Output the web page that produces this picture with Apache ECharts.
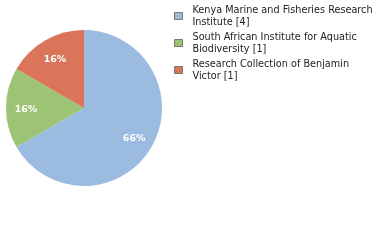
<!DOCTYPE html>
<html><head><meta charset="utf-8">
<script src="https://cdn.jsdelivr.net/npm/echarts@6/dist/echarts.min.js"></script>
<style>html,body{margin:0;padding:0;background:#fff}#c{width:380px;height:240px}</style>
</head><body><div id="c"></div>
<script>
const categories = ["Kenya Marine and Fisheries Research Institute", "South African Institute for Aquatic Biodiversity", "Research Collection of Benjamin Victor"];
const legendLines = [["Kenya Marine and Fisheries Research", "Institute [4]"], ["South African Institute for Aquatic", "Biodiversity [1]"], ["Research Collection of Benjamin", "Victor [1]"]];
const counts = [4, 1, 1];
const colors = ["#9bbbe0", "#9dc374", "#da7559"];

const total = counts.reduce((a, b) => a + b, 0);
const data = categories.map((n, i) => ({ name: n, value: counts[i], itemStyle: { color: colors[i] } }));
const labelData = categories.map((n, i) => ({ name: n, value: counts[i] }));

const chart = echarts.init(document.getElementById('c'), null, { renderer: 'canvas' });
chart.setOption({
  animation: false,
  legend: {
    orient: 'vertical', left: 169, top: -1, itemWidth: 8, itemHeight: 7, itemGap: 3,
    icon: 'rect',
    itemStyle: { borderColor: '#777', borderWidth: 1 },
    data: categories,
    formatter: function (name) { const i = categories.indexOf(name); return legendLines[i].join('\n'); },
    textStyle: { fontFamily: 'DejaVu Sans', fontSize: 9.7, color: '#222', lineHeight: 12, padding: [0, 0, 0, 5] },
    selectedMode: false
  },
  series: [{
    type: 'pie', center: [84, 108], radius: 78, startAngle: 90, clockwise: true,
    data: data, label: { show: false }, labelLine: { show: false }, silent: true,
    itemStyle: { borderWidth: 0 }
  }, {
    type: 'pie', center: [84, 110], radius: [34, 76], startAngle: 90, clockwise: true,
    data: labelData, silent: true,
    itemStyle: { color: 'rgba(0,0,0,0)', borderWidth: 0 },
    label: { show: true, position: 'inside', color: '#fff', fontFamily: 'DejaVu Sans', fontWeight: 'bold', fontSize: 9.5,
      formatter: function (p) { return Math.floor(p.value / total * 100) + '%'; } },
    labelLine: { show: false }
  }]
});
</script></body></html>
